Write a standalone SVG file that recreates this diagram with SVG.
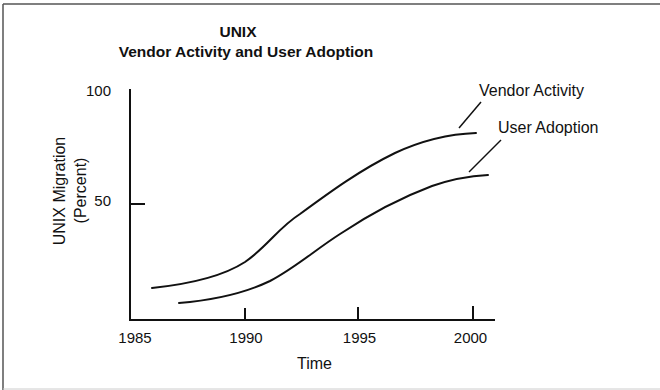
<svg xmlns="http://www.w3.org/2000/svg" width="660" height="390" viewBox="0 0 660 390">
<style>
  text { font-family: "Liberation Sans", Arial, sans-serif; fill: #111; }
  .title { font-size: 15.5px; font-weight: bold; text-anchor: middle; }
  .num { font-size: 15px; }
  .lbl { font-size: 16px; }
  .axis { stroke: #111; stroke-width: 2; fill: none; }
  .curve { stroke: #111; stroke-width: 2; fill: none; stroke-linecap: round; }
  .leader { stroke: #111; stroke-width: 1.5; fill: none; }
</style>
<rect width="660" height="390" fill="#fff"/>
<g id="frame">
  <line x1="3" y1="4" x2="660" y2="4" stroke="#555" stroke-width="1.5"/>
  <line x1="3" y1="4" x2="3" y2="390" stroke="#555" stroke-width="1.5"/>
  <line x1="3" y1="389" x2="660" y2="389" stroke="#ccc" stroke-width="1"/>
</g>
<g id="title">
  <text class="title" x="238" y="37">UNIX</text>
  <text class="title" x="246" y="57">Vendor Activity and User Adoption</text>
</g>
<g id="y-axis">
  <line class="axis" x1="130" y1="89" x2="130" y2="321"/>
  <line class="axis" x1="130" y1="204" x2="145" y2="204"/>
  <text class="num" x="111" y="96" text-anchor="end">100</text>
  <text class="num" x="111" y="206" text-anchor="end">50</text>
  <text class="lbl" transform="translate(65,191) rotate(-90)" text-anchor="middle">UNIX Migration</text>
  <text class="lbl" transform="translate(86,190.5) rotate(-90)" text-anchor="middle">(Percent)</text>
</g>
<g id="x-axis">
  <line class="axis" x1="129" y1="320" x2="495" y2="320"/>
  <line class="axis" x1="245" y1="308" x2="245" y2="320"/>
  <line class="axis" x1="358" y1="307" x2="358" y2="320"/>
  <line class="axis" x1="473" y1="306" x2="473" y2="320"/>
  <text class="num" x="135" y="343" text-anchor="middle">1985</text>
  <text class="num" x="246" y="343" text-anchor="middle">1990</text>
  <text class="num" x="359.5" y="343" text-anchor="middle">1995</text>
  <text class="num" x="470.5" y="343" text-anchor="middle">2000</text>
  <text class="lbl" x="314.5" y="369" text-anchor="middle">Time</text>
</g>
<g id="vendor-activity">
  <path class="curve" d="M152,288 C190,284 225,275 245,262 C268,246 278,228 300,214 C330,192 360,170 395,153 C425,139 450,134 476,133"/>
  <text class="lbl" x="479" y="96">Vendor Activity</text>
</g>
<g id="user-adoption">
  <path class="curve" d="M179,303 C215,300 245,293 270,281 C295,268 315,250 340,234 C370,214 400,198 432,186 C452,179 470,176 488,175"/>
  <text class="lbl" x="498" y="133">User Adoption</text>
</g>
<g id="connectors">
  <line class="leader" x1="481" y1="102" x2="459" y2="128"/>
  <line class="leader" x1="501" y1="140" x2="469" y2="172"/>
</g>
</svg>
